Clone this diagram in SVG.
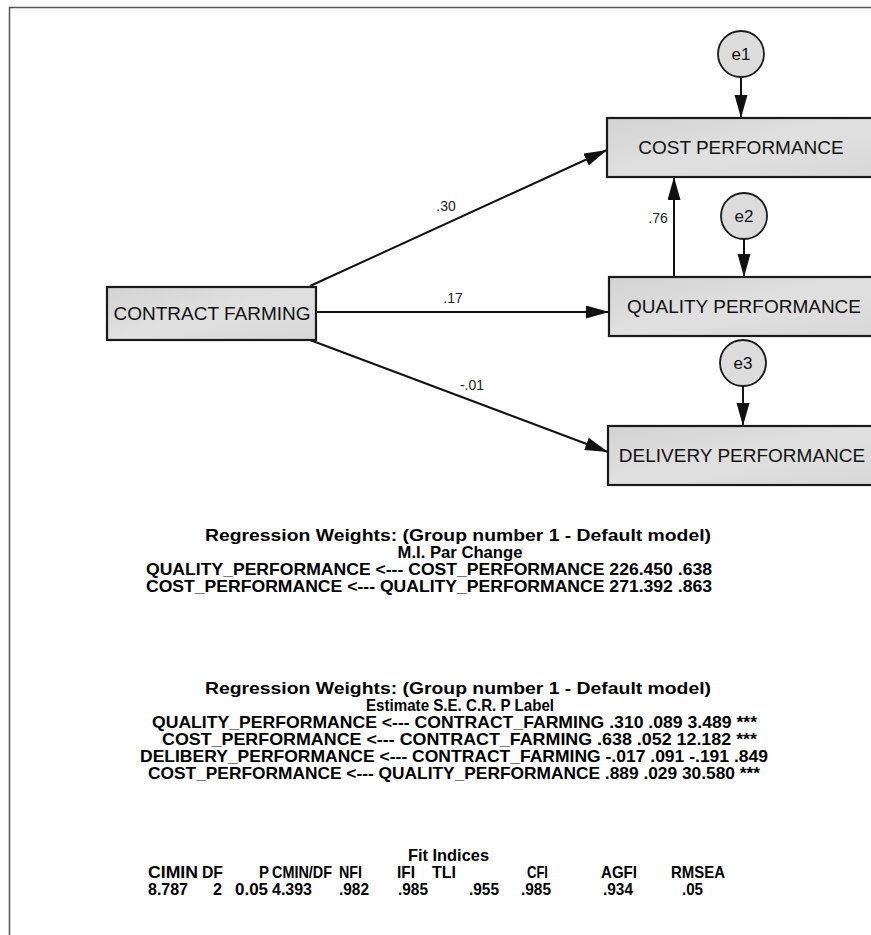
<svg xmlns="http://www.w3.org/2000/svg" width="871" height="935" viewBox="0 0 871 935">
<defs>
<linearGradient id="boxfill" x1="0" y1="0" x2="1" y2="1">
<stop offset="0" stop-color="#d3d3d3"/>
<stop offset="0.5" stop-color="#e0e0e0"/>
<stop offset="1" stop-color="#d8d8d8"/>
</linearGradient>
<marker id="ah" markerUnits="userSpaceOnUse" markerWidth="26" markerHeight="14" refX="23" refY="6.5" orient="auto">
<path d="M0,0 L23,6.5 L0,13 z" fill="#111"/>
</marker>
<style>
.box{fill:url(#boxfill);stroke:#1a1a1a;stroke-width:2.2}
.err{fill:#dcdcdc;stroke:#1a1a1a;stroke-width:1.8}
.lbl{font-family:"Liberation Sans",Arial,sans-serif;font-size:19px;fill:#111;text-anchor:middle}
.elbl{font-family:"Liberation Sans",Arial,sans-serif;font-size:17px;fill:#111;text-anchor:middle}
.coef{font-family:"Liberation Sans",Arial,sans-serif;font-size:14px;fill:#222;text-anchor:middle}
.edge{stroke:#111;stroke-width:2;fill:none;marker-end:url(#ah)}
.tb{font-family:"Liberation Sans",Arial,sans-serif;font-size:16.5px;font-weight:bold;fill:#000}
.tc{font-family:"Liberation Sans",Arial,sans-serif;font-size:16.5px;font-weight:bold;fill:#000;text-anchor:middle}
</style>
</defs>
<rect x="0" y="0" width="871" height="935" fill="#ffffff"/>
<path d="M9.5,935 L9.5,7.5 L871,7.5" fill="none" stroke="#555" stroke-width="1.5"/>

<g id="connectors">
<path class="edge" d="M310,286 L607,150"/>
<path class="edge" d="M316,312 L609,312"/>
<path class="edge" d="M310,340 L608,452"/>
<path class="edge" d="M674,277 L674,177"/>
<path class="edge" d="M741,77 L741,118"/>
<path class="edge" d="M744,239 L744,277"/>
<path class="edge" d="M743,386 L743,426"/>
<text class="coef" x="446" y="211">.30</text>
<text class="coef" x="453" y="303">.17</text>
<text class="coef" x="472" y="390">-.01</text>
<text class="coef" x="658" y="223">.76</text>
</g>

<g id="contract_farming">
<rect class="box" x="107" y="287" width="209" height="53"/>
<text class="lbl" x="212" y="320">CONTRACT FARMING</text>
</g>
<g id="cost_performance">
<rect class="box" x="607" y="118" width="275" height="59"/>
<text class="lbl" x="741" y="154">COST PERFORMANCE</text>
</g>
<g id="quality_performance">
<rect class="box" x="609" y="277" width="275" height="59"/>
<text class="lbl" x="744" y="313">QUALITY PERFORMANCE</text>
</g>
<g id="delivery_performance">
<rect class="box" x="608" y="426" width="275" height="59"/>
<text class="lbl" x="742" y="462">DELIVERY PERFORMANCE</text>
</g>
<g id="e1">
<circle class="err" cx="741" cy="54" r="23"/>
<text class="elbl" x="741" y="60">e1</text>
</g>
<g id="e2">
<circle class="err" cx="744" cy="216" r="23"/>
<text class="elbl" x="744" y="222">e2</text>
</g>
<g id="e3">
<circle class="err" cx="743" cy="363" r="23"/>
<text class="elbl" x="743" y="369">e3</text>
</g>

<g id="table_mi">
<text class="tb" x="205" y="541" textLength="506" lengthAdjust="spacingAndGlyphs">Regression Weights: (Group number 1 - Default model)</text>
<text class="tc" x="460" y="558" textLength="125" lengthAdjust="spacingAndGlyphs">M.I. Par Change</text>
<text class="tb" x="146" y="575" textLength="566" lengthAdjust="spacingAndGlyphs">QUALITY_PERFORMANCE &lt;--- COST_PERFORMANCE 226.450 .638</text>
<text class="tb" x="146" y="592" textLength="566" lengthAdjust="spacingAndGlyphs">COST_PERFORMANCE &lt;--- QUALITY_PERFORMANCE 271.392 .863</text>
</g>

<g id="table_rw">
<text class="tb" x="205" y="694" textLength="506" lengthAdjust="spacingAndGlyphs">Regression Weights: (Group number 1 - Default model)</text>
<text class="tc" x="460" y="711" textLength="188" lengthAdjust="spacingAndGlyphs">Estimate S.E. C.R. P Label</text>
<text class="tb" x="152" y="728" textLength="605" lengthAdjust="spacingAndGlyphs">QUALITY_PERFORMANCE &lt;--- CONTRACT_FARMING .310 .089 3.489 ***</text>
<text class="tb" x="162" y="745" textLength="595" lengthAdjust="spacingAndGlyphs">COST_PERFORMANCE &lt;--- CONTRACT_FARMING .638 .052 12.182 ***</text>
<text class="tb" x="140" y="762" textLength="628" lengthAdjust="spacingAndGlyphs">DELIBERY_PERFORMANCE &lt;--- CONTRACT_FARMING -.017 .091 -.191 .849</text>
<text class="tb" x="148" y="779" textLength="612" lengthAdjust="spacingAndGlyphs">COST_PERFORMANCE &lt;--- QUALITY_PERFORMANCE .889 .029 30.580 ***</text>
</g>

<g id="table_fit">
<text class="tb" x="408" y="861" textLength="81" lengthAdjust="spacingAndGlyphs">Fit Indices</text>
<text class="tb" x="148" y="878" textLength="50" lengthAdjust="spacingAndGlyphs">CIMIN</text>
<text class="tb" x="202" y="878" textLength="21" lengthAdjust="spacingAndGlyphs">DF</text>
<text class="tb" x="259" y="878" textLength="10" lengthAdjust="spacingAndGlyphs">P</text>
<text class="tb" x="272" y="878" textLength="60" lengthAdjust="spacingAndGlyphs">CMIN/DF</text>
<text class="tb" x="339" y="878" textLength="23" lengthAdjust="spacingAndGlyphs">NFI</text>
<text class="tb" x="397" y="878" textLength="18" lengthAdjust="spacingAndGlyphs">IFI</text>
<text class="tb" x="432" y="878" textLength="24" lengthAdjust="spacingAndGlyphs">TLI</text>
<text class="tb" x="527" y="878" textLength="21" lengthAdjust="spacingAndGlyphs">CFI</text>
<text class="tb" x="601" y="878" textLength="36" lengthAdjust="spacingAndGlyphs">AGFI</text>
<text class="tb" x="671" y="878" textLength="54" lengthAdjust="spacingAndGlyphs">RMSEA</text>
<text class="tb" x="148" y="895" textLength="40" lengthAdjust="spacingAndGlyphs">8.787</text>
<text class="tb" x="213" y="895" textLength="9" lengthAdjust="spacingAndGlyphs">2</text>
<text class="tb" x="235" y="895" textLength="33" lengthAdjust="spacingAndGlyphs">0.05</text>
<text class="tb" x="272" y="895" textLength="40" lengthAdjust="spacingAndGlyphs">4.393</text>
<text class="tb" x="339" y="895" textLength="30" lengthAdjust="spacingAndGlyphs">.982</text>
<text class="tb" x="398" y="895" textLength="30" lengthAdjust="spacingAndGlyphs">.985</text>
<text class="tb" x="469" y="895" textLength="30" lengthAdjust="spacingAndGlyphs">.955</text>
<text class="tb" x="521" y="895" textLength="30" lengthAdjust="spacingAndGlyphs">.985</text>
<text class="tb" x="603" y="895" textLength="30" lengthAdjust="spacingAndGlyphs">.934</text>
<text class="tb" x="682" y="895" textLength="21" lengthAdjust="spacingAndGlyphs">.05</text>
</g>
</svg>
